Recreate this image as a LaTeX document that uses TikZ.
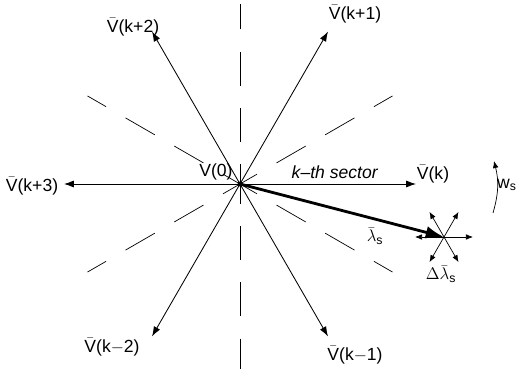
\documentclass[tikz,border=0pt]{standalone}
\usepackage{amsmath}
\usepackage{fontspec}
\setmainfont{Liberation Sans}
\usepackage{tikz}
\usetikzlibrary{positioning,arrows.meta,calc}
\tikzset{
  vec/.style={-{Latex[length=7pt,width=5pt]},line width=0.6pt},
  dvec/.style={-{Latex[length=5pt,width=4pt]},line width=0.5pt},
  sect/.style={line width=0.5pt,dash pattern=on 24pt off 16pt,dash phase=10pt},
  lbl/.style={inner sep=1pt,font=\fontsize{12.5}{14}\selectfont}
}
\newcommand{\Vb}{\ensuremath{\bar{\text{V}}}}

\begin{document}
\begin{tikzpicture}[x=0.025cm,y=0.025cm]
\useasboundingbox (0,0) rectangle (519,369);
\coordinate (O) at (240,185);
% sector boundaries
\foreach \a in {30,150,210,330}
  \draw[sect] (O) -- ++(\a:176);
\draw[sect] (O) -- (240,365);
\draw[sect] (O) -- (240,0);
% voltage vectors
\foreach \a/\n in {0/vk,60/vkp1,120/vkp2,180/vkp3,240/vkm2,300/vkm1}
  \draw[vec] (O) -- ++(\a:176) coordinate (\n);
\fill (O) circle (2.5);
% labels
\node[lbl] (lk)   at (433,195) {\Vb(k)};
\node[lbl] (lkp1) at (355,355) {\Vb(k+1)};
\node[lbl] (lkp2) at (133,342) {\Vb(k+2)};
\node[lbl] (lkp3) at (32,183)  {\Vb(k+3)};
\node[lbl] (lkm2) at (112,22)  {\Vb(k$-$2)};
\node[lbl] (lkm1) at (355,14)  {\Vb(k$-$1)};
\node[lbl] (l0)   at (216,197) {V(0)};
\node[lbl] (sec)  at (335,197) {\textit{k--th sector}};
% stator flux
\coordinate (P) at (444,132);
\draw[line width=2pt,-{Latex[length=13pt,width=9pt]}] (O) -- (P);
\foreach \a in {0,60,...,300}
  \draw[dvec] (P) -- ++(\a:29);
\node[lbl] (lam)  at (375,133) {$\bar{\lambda}_\text{s}$};
\node[lbl] (dlam) at (441,95)  {$\Delta\bar{\lambda}_\text{s}$};
% rotation
\coordinate (w1) at (493,156);
\coordinate (w2) at (494,208);
\draw[dvec] (w1) to[bend right=15] (w2);
\node[lbl] (ws) at (507,184) {w\textsubscript{s}};
\end{tikzpicture}
\end{document}
